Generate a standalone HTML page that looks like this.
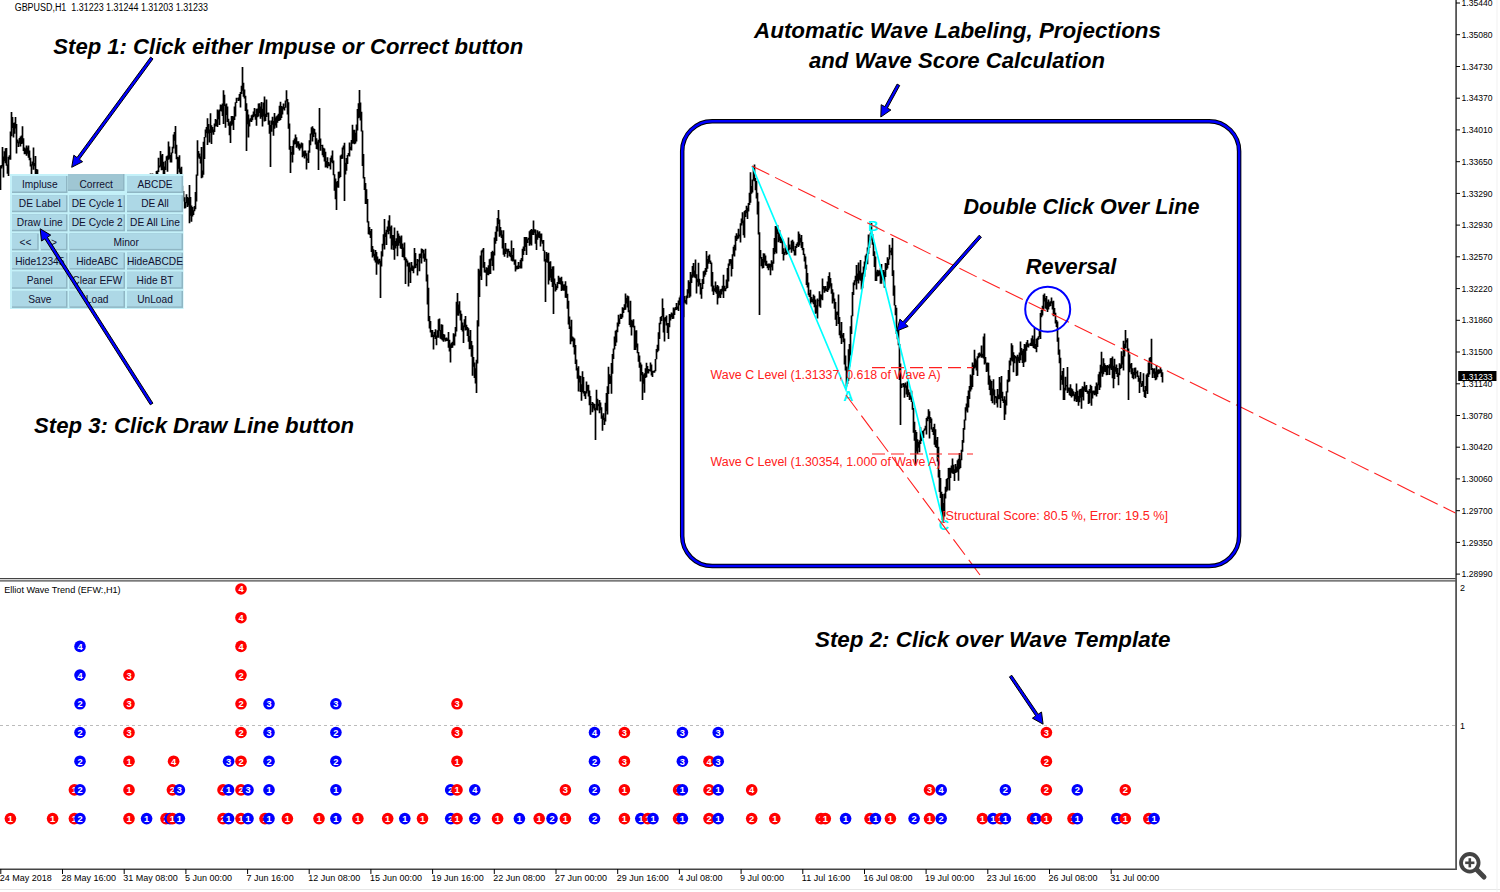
<!DOCTYPE html>
<html><head><meta charset="utf-8">
<style>
html,body{margin:0;padding:0;background:#fff;width:1500px;height:892px;overflow:hidden}
svg{position:absolute;left:0;top:0;display:block}
text{font-family:"Liberation Sans",sans-serif}
.ann{font-weight:bold;font-style:italic;font-size:22.8px;fill:#000}
.ax{font-size:9px;fill:#000}
.tx{font-size:9px;fill:#000}
.bt{font-size:10.2px;fill:#101030;text-anchor:middle}
.mkt{font-size:9.3px;font-weight:bold;fill:#fff;text-anchor:middle}
.red{font-size:12px;fill:#ff2020}
</style></head><body>
<svg width="1500" height="892" viewBox="0 0 1500 892">
<rect x="0" y="0" width="1500" height="892" fill="#fff"/>
<!-- price -->
<path d="M0.5 165.5V190.0M1.5 165.0V168.4M2.5 147.0V166.4M3.5 156.5V177.5M4.5 151.2V161.3M5.5 148.2V163.3M6.5 148.0V165.8M7.5 164.5V173.8M8.5 156.8V176.0M9.5 155.2V159.6M10.5 131.4V159.8M11.5 112.0V136.3M12.5 117.1V128.0M13.5 122.9V137.6M14.5 122.4V133.7M15.5 117.0V128.5M16.5 124.1V153.4M17.5 139.4V143.2M18.5 141.4V146.9M19.5 137.9V143.4M20.5 136.6V146.4M21.5 135.5V143.9M22.5 126.2V143.5M23.5 138.3V151.1M24.5 147.6V154.2M25.5 148.5V153.9M26.5 145.5V155.8M27.5 147.6V153.7M28.5 145.5V157.8M29.5 150.5V160.3M30.5 157.8V166.6M31.5 164.2V181.3M32.5 161.5V165.6M33.5 147.4V169.7M34.5 163.0V166.2M35.5 156.0V174.7M36.5 169.0V177.4M37.5 169.5V196.1M38.5 176.8V198.2M39.5 185.6V187.8M40.5 177.4V190.8M41.5 177.6V203.7M42.5 194.4V196.1M43.5 188.9V201.8M44.5 193.1V199.8M45.5 186.6V196.9M46.5 189.6V200.8M47.5 195.2V203.9M48.5 200.6V202.9M49.5 194.9V201.4M50.5 184.4V207.1M51.5 200.8V207.0M52.5 193.7V204.1M53.5 197.4V204.9M54.5 203.8V211.4M55.5 203.4V211.6M56.5 201.1V211.3M57.5 191.1V210.9M58.5 206.0V213.7M59.5 209.6V216.7M60.5 213.8V217.4M61.5 214.7V219.6M62.5 215.0V220.7M63.5 212.5V220.4M64.5 205.9V221.1M65.5 208.3V216.6M66.5 210.3V219.1M67.5 214.4V221.6M68.5 214.5V222.3M69.5 212.8V226.5M70.5 200.9V230.6M71.5 220.6V225.5M72.5 213.0V226.5M73.5 223.1V225.2M74.5 224.7V234.8M75.5 220.0V229.5M76.5 220.0V232.5M77.5 222.7V234.0M78.5 223.4V243.1M79.5 229.9V238.5M80.5 227.3V237.3M81.5 221.6V228.4M82.5 223.8V229.2M83.5 224.7V233.1M84.5 230.3V233.7M85.5 226.6V235.4M86.5 221.5V228.7M87.5 212.2V227.6M88.5 221.4V228.1M89.5 208.2V227.7M90.5 223.2V230.4M91.5 224.4V230.1M92.5 216.5V235.2M93.5 225.5V235.2M94.5 223.6V237.0M95.5 221.2V228.7M96.5 221.3V231.4M97.5 218.7V226.2M98.5 220.9V242.9M99.5 224.4V230.9M100.5 225.1V233.9M101.5 224.5V232.9M102.5 221.6V230.6M103.5 217.2V228.6M104.5 218.8V222.0M105.5 216.1V222.5M106.5 205.2V222.6M107.5 221.2V226.0M108.5 218.9V225.5M109.5 212.3V225.3M110.5 210.0V223.3M111.5 217.9V226.2M112.5 217.3V221.3M113.5 218.4V230.9M114.5 216.3V234.3M115.5 223.6V225.9M116.5 224.0V226.5M117.5 224.1V231.8M118.5 226.6V234.2M119.5 221.9V228.3M120.5 218.6V223.1M121.5 214.2V219.9M122.5 213.0V223.2M123.5 216.4V221.1M124.5 216.1V222.2M125.5 217.7V221.0M126.5 213.6V218.7M127.5 213.8V221.7M128.5 217.7V226.9M129.5 209.8V231.6M130.5 210.0V212.0M131.5 205.1V212.6M132.5 195.2V206.3M133.5 204.1V212.6M134.5 208.3V216.7M135.5 207.5V215.1M136.5 203.6V208.4M137.5 203.5V204.9M138.5 193.1V205.1M139.5 193.9V198.0M140.5 186.8V200.0M141.5 191.3V205.0M142.5 187.6V204.7M143.5 195.7V197.8M144.5 195.4V198.9M145.5 187.4V203.5M146.5 194.0V196.1M147.5 190.2V203.2M148.5 187.2V200.9M149.5 178.4V191.6M150.5 173.6V190.5M151.5 184.3V191.8M152.5 173.6V189.3M153.5 180.3V193.9M154.5 175.9V185.4M155.5 173.9V180.6M156.5 170.9V176.1M157.5 170.4V176.2M158.5 157.7V171.9M159.5 165.4V167.6M160.5 150.9V166.6M161.5 155.2V170.3M162.5 154.0V170.0M163.5 161.7V174.8M164.5 166.6V178.6M165.5 160.7V170.1M166.5 156.3V160.8M167.5 155.6V171.7M168.5 141.6V159.7M169.5 146.6V158.7M170.5 155.1V162.6M171.5 152.4V162.4M172.5 146.7V153.3M173.5 134.5V148.6M174.5 132.0V140.8M175.5 126.0V153.7M176.5 144.8V159.3M177.5 156.8V177.7M178.5 157.2V168.8M179.5 155.3V172.4M180.5 168.3V179.1M181.5 166.7V191.6M182.5 185.7V194.5M183.5 191.1V201.6M184.5 197.3V208.4M185.5 202.1V208.3M186.5 194.2V203.3M187.5 197.1V207.0M188.5 198.0V205.4M189.5 185.1V223.3M190.5 197.1V215.7M191.5 205.5V221.7M192.5 207.0V216.4M193.5 210.3V214.9M194.5 206.1V211.2M195.5 192.0V209.2M196.5 174.6V201.6M197.5 140.2V175.8M198.5 150.9V157.4M199.5 153.4V158.7M200.5 156.5V163.5M201.5 147.1V178.3M202.5 170.4V177.6M203.5 141.7V174.7M204.5 136.9V159.0M205.5 129.5V137.6M206.5 126.9V133.2M207.5 118.2V145.0M208.5 123.9V133.4M209.5 129.6V142.4M210.5 113.2V132.9M211.5 125.3V144.0M212.5 127.0V132.4M213.5 129.4V134.7M214.5 123.6V132.1M215.5 119.0V126.5M216.5 120.0V126.1M217.5 109.6V127.0M218.5 110.6V119.3M219.5 109.5V125.1M220.5 104.4V110.9M221.5 105.0V111.4M222.5 103.6V115.9M223.5 90.2V123.9M224.5 94.8V105.9M225.5 104.6V127.8M226.5 103.6V114.9M227.5 106.6V122.1M228.5 118.7V125.7M229.5 122.6V135.3M230.5 121.3V142.9M231.5 115.9V125.8M232.5 116.1V124.5M233.5 116.6V130.1M234.5 106.4V120.0M235.5 102.2V116.6M236.5 97.7V102.9M237.5 98.0V98.6M238.5 97.4V100.9M239.5 93.9V100.6M240.5 92.0V107.5M241.5 85.7V94.1M242.5 67.0V90.8M243.5 82.7V96.8M244.5 89.4V98.4M245.5 95.7V110.9M246.5 103.3V151.0M247.5 109.5V124.2M248.5 114.5V137.4M249.5 119.6V126.5M250.5 118.3V121.4M251.5 115.2V122.1M252.5 114.4V120.3M253.5 111.5V117.3M254.5 107.9V116.2M255.5 114.1V119.7M256.5 108.8V125.8M257.5 108.4V117.3M258.5 103.6V116.6M259.5 103.3V113.0M260.5 106.4V118.7M261.5 101.9V117.1M262.5 108.7V126.4M263.5 102.6V116.4M264.5 96.4V121.5M265.5 113.8V121.1M266.5 99.6V117.1M267.5 112.8V114.6M268.5 112.5V124.7M269.5 120.4V133.7M270.5 124.9V167.0M271.5 120.6V131.7M272.5 116.8V124.7M273.5 121.1V135.8M274.5 113.0V128.8M275.5 117.4V125.4M276.5 116.2V127.8M277.5 115.3V122.8M278.5 113.7V121.0M279.5 105.7V120.8M280.5 101.7V120.0M281.5 106.1V118.0M282.5 106.8V114.6M283.5 103.6V109.3M284.5 106.9V110.4M285.5 100.4V107.8M286.5 90.3V101.6M287.5 99.0V114.5M288.5 102.2V128.8M289.5 123.4V149.7M290.5 145.9V173.0M291.5 152.0V154.8M292.5 145.9V162.5M293.5 140.2V154.8M294.5 138.5V144.5M295.5 134.4V144.0M296.5 137.3V147.8M297.5 141.3V146.5M298.5 141.2V148.7M299.5 143.4V150.5M300.5 144.5V148.5M301.5 142.4V147.5M302.5 143.2V157.2M303.5 151.2V156.1M304.5 150.4V158.5M305.5 150.4V156.0M306.5 153.3V169.5M307.5 158.6V160.6M308.5 150.6V162.9M309.5 140.2V152.7M310.5 133.6V145.2M311.5 127.2V134.6M312.5 126.2V141.5M313.5 128.3V136.9M314.5 128.9V133.9M315.5 132.4V144.6M316.5 138.2V148.9M317.5 141.5V149.6M318.5 139.8V170.0M319.5 108.0V142.8M320.5 138.4V150.7M321.5 144.9V146.1M322.5 144.7V155.3M323.5 147.7V157.2M324.5 148.6V161.6M325.5 151.7V167.5M326.5 160.9V167.0M327.5 157.3V168.2M328.5 162.1V166.3M329.5 163.5V166.3M330.5 157.8V169.4M331.5 155.6V162.0M332.5 150.6V163.2M333.5 160.4V175.3M334.5 174.2V190.8M335.5 178.5V199.2M336.5 182.1V210.0M337.5 180.9V187.5M338.5 171.7V187.8M339.5 171.6V178.2M340.5 155.4V177.1M341.5 154.4V159.1M342.5 147.5V158.7M343.5 145.5V149.5M344.5 142.7V201.0M345.5 162.8V174.6M346.5 157.9V170.7M347.5 154.9V164.0M348.5 153.0V155.7M349.5 142.4V156.4M350.5 146.7V150.1M351.5 140.1V150.4M352.5 124.7V143.8M353.5 129.8V143.4M354.5 129.7V144.2M355.5 132.8V143.6M356.5 124.5V141.5M357.5 109.0V130.5M358.5 103.2V118.2M359.5 90.0V117.6M360.5 102.5V120.5M361.5 111.7V131.6M362.5 130.6V166.0M363.5 154.1V178.6M364.5 177.0V190.1M365.5 183.1V204.0M366.5 189.2V204.0M367.5 199.1V222.5M368.5 221.3V234.2M369.5 227.1V234.8M370.5 231.1V238.1M371.5 229.1V251.9M372.5 246.1V257.4M373.5 249.3V256.1M374.5 253.7V260.4M375.5 249.9V262.6M376.5 252.1V274.7M377.5 256.6V263.4M378.5 259.5V264.6M379.5 258.7V263.3M380.5 260.8V298.0M381.5 251.2V266.6M382.5 243.8V256.4M383.5 234.3V245.6M384.5 219.1V249.4M385.5 232.5V236.9M386.5 229.8V245.1M387.5 226.4V232.1M388.5 220.4V234.2M389.5 215.2V231.1M390.5 226.8V238.5M391.5 225.4V249.6M392.5 235.1V245.4M393.5 235.0V250.1M394.5 227.6V259.8M395.5 241.1V248.5M396.5 238.3V246.0M397.5 230.8V256.2M398.5 233.4V245.7M399.5 235.7V243.3M400.5 237.3V248.6M401.5 235.4V249.0M402.5 243.4V257.1M403.5 247.5V257.5M404.5 242.5V260.3M405.5 257.2V284.0M406.5 258.8V262.4M407.5 260.5V266.5M408.5 262.7V286.5M409.5 262.4V272.2M410.5 267.5V282.9M411.5 261.9V270.5M412.5 265.4V271.1M413.5 266.4V273.2M414.5 248.0V268.4M415.5 253.0V268.0M416.5 263.8V265.4M417.5 259.1V275.6M418.5 260.3V261.4M419.5 253.8V271.3M420.5 253.4V258.1M421.5 248.4V263.5M422.5 248.9V252.8M423.5 249.9V258.6M424.5 253.6V261.8M425.5 248.7V260.0M426.5 258.8V281.6M427.5 274.4V304.5M428.5 287.8V321.3M429.5 316.1V328.6M430.5 321.1V332.4M431.5 330.1V337.3M432.5 330.1V337.0M433.5 334.8V349.4M434.5 332.0V337.1M435.5 329.3V339.0M436.5 335.6V345.2M437.5 330.2V337.7M438.5 319.3V337.7M439.5 318.6V330.8M440.5 329.9V338.8M441.5 324.3V339.4M442.5 324.8V340.5M443.5 334.0V341.7M444.5 334.6V339.7M445.5 338.0V341.4M446.5 337.4V340.9M447.5 338.4V341.1M448.5 331.9V347.8M449.5 339.8V351.5M450.5 344.3V362.4M451.5 342.8V348.0M452.5 341.8V347.8M453.5 333.2V345.4M454.5 334.3V345.6M455.5 327.0V336.5M456.5 301.7V331.6M457.5 293.0V315.4M458.5 304.4V315.7M459.5 301.2V313.4M460.5 310.4V320.6M461.5 313.7V329.9M462.5 322.4V331.4M463.5 325.5V342.9M464.5 319.3V327.3M465.5 316.1V330.5M466.5 324.7V330.0M467.5 326.9V336.0M468.5 328.3V341.8M469.5 336.1V349.2M470.5 330.0V348.9M471.5 340.9V356.8M472.5 345.2V375.8M473.5 357.0V366.7M474.5 362.6V378.0M475.5 368.3V383.6M476.5 359.7V393.0M477.5 320.3V363.5M478.5 268.7V326.5M479.5 270.2V297.0M480.5 255.5V276.2M481.5 250.5V280.1M482.5 249.5V252.5M483.5 248.1V267.7M484.5 261.9V272.6M485.5 269.7V272.7M486.5 267.3V286.2M487.5 267.9V275.1M488.5 265.2V275.2M489.5 259.3V273.9M490.5 258.4V273.9M491.5 251.9V260.5M492.5 250.7V265.9M493.5 252.0V270.6M494.5 237.5V255.5M495.5 231.7V243.7M496.5 226.3V240.9M497.5 217.9V231.4M498.5 210.0V223.9M499.5 219.5V236.7M500.5 226.9V235.6M501.5 230.3V238.1M502.5 234.6V248.4M503.5 230.3V254.7M504.5 248.8V256.7M505.5 243.0V253.9M506.5 248.5V251.8M507.5 249.3V257.8M508.5 248.8V252.4M509.5 250.9V256.3M510.5 252.5V257.2M511.5 240.4V260.7M512.5 255.1V261.6M513.5 248.1V261.2M514.5 259.4V264.8M515.5 259.5V271.6M516.5 265.9V269.5M517.5 265.4V269.3M518.5 262.1V269.0M519.5 265.7V267.4M520.5 259.7V268.5M521.5 257.9V268.5M522.5 248.8V261.3M523.5 246.4V255.1M524.5 237.1V251.1M525.5 237.1V246.9M526.5 236.9V255.1M527.5 239.3V242.9M528.5 237.8V239.8M529.5 231.3V245.7M530.5 230.1V244.2M531.5 229.0V245.4M532.5 230.0V234.9M533.5 220.6V234.9M534.5 229.2V232.7M535.5 229.4V243.8M536.5 234.2V250.0M537.5 230.2V239.7M538.5 232.3V237.6M539.5 231.3V238.1M540.5 233.5V246.6M541.5 233.4V241.4M542.5 240.2V243.8M543.5 240.1V251.1M544.5 250.5V261.4M545.5 259.1V302.0M546.5 251.9V261.9M547.5 253.7V262.8M548.5 252.7V284.5M549.5 261.9V280.6M550.5 261.2V277.7M551.5 269.0V282.1M552.5 266.4V286.9M553.5 266.3V314.0M554.5 278.6V284.4M555.5 283.8V291.5M556.5 285.8V289.9M557.5 282.0V288.2M558.5 275.7V283.9M559.5 277.6V284.1M560.5 278.1V284.6M561.5 276.7V291.0M562.5 281.3V290.1M563.5 284.5V290.8M564.5 284.2V290.7M565.5 281.2V297.8M566.5 285.7V297.9M567.5 293.7V308.8M568.5 300.8V324.6M569.5 316.5V329.0M570.5 326.4V344.3M571.5 319.8V341.5M572.5 336.4V341.3M573.5 337.6V347.2M574.5 338.4V354.6M575.5 344.9V364.1M576.5 359.6V370.4M577.5 368.0V378.7M578.5 366.3V391.5M579.5 375.6V382.6M580.5 376.1V392.1M581.5 384.2V400.7M582.5 371.2V391.9M583.5 377.0V393.5M584.5 390.9V396.3M585.5 391.4V399.0M586.5 381.5V393.6M587.5 384.9V391.2M588.5 384.8V396.4M589.5 390.6V405.3M590.5 396.1V414.7M591.5 404.1V404.9M592.5 402.1V412.2M593.5 403.3V408.5M594.5 404.0V410.5M595.5 407.8V440.0M596.5 389.8V410.1M597.5 398.7V410.4M598.5 403.8V406.2M599.5 399.9V413.3M600.5 402.4V410.2M601.5 407.2V418.7M602.5 415.6V430.8M603.5 413.3V420.1M604.5 417.7V425.0M605.5 402.8V421.4M606.5 393.0V411.3M607.5 386.3V414.4M608.5 366.7V393.9M609.5 374.3V384.0M610.5 376.1V383.8M611.5 363.0V393.8M612.5 354.1V373.7M613.5 348.6V359.0M614.5 336.4V349.6M615.5 330.7V345.9M616.5 329.8V342.4M617.5 322.6V332.3M618.5 314.7V326.6M619.5 318.4V324.0M620.5 313.8V319.0M621.5 314.0V319.0M622.5 307.2V317.4M623.5 308.0V312.9M624.5 304.2V310.0M625.5 293.4V309.7M626.5 298.0V303.4M627.5 295.6V307.4M628.5 296.2V312.3M629.5 310.3V324.9M630.5 300.7V327.2M631.5 319.7V335.5M632.5 320.7V327.1M633.5 319.3V327.5M634.5 325.8V349.9M635.5 330.5V350.0M636.5 330.2V347.6M637.5 343.4V353.3M638.5 351.9V361.7M639.5 355.6V367.8M640.5 362.4V381.6M641.5 364.6V375.3M642.5 371.9V400.0M643.5 374.4V383.8M644.5 373.3V392.8M645.5 368.2V377.9M646.5 362.7V377.3M647.5 366.0V373.5M648.5 369.0V373.5M649.5 369.4V370.9M650.5 362.4V371.4M651.5 364.6V375.5M652.5 370.8V376.9M653.5 370.9V372.8M654.5 370.3V372.7M655.5 359.1V371.2M656.5 348.9V359.3M657.5 344.7V352.2M658.5 332.2V350.8M659.5 322.8V339.0M660.5 317.0V324.2M661.5 315.9V320.9M662.5 298.5V316.7M663.5 308.0V332.6M664.5 317.8V341.5M665.5 316.9V321.5M666.5 315.5V325.5M667.5 323.0V333.0M668.5 322.9V339.1M669.5 313.9V327.2M670.5 314.6V320.6M671.5 312.4V317.2M672.5 313.6V318.9M673.5 307.5V318.7M674.5 308.6V314.9M675.5 307.0V310.3M676.5 303.1V309.9M677.5 306.5V309.3M678.5 300.5V310.9M679.5 297.4V305.2M680.5 295.4V298.9M681.5 296.6V298.4M682.5 294.4V301.0M683.5 299.3V317.3M684.5 295.9V302.6M685.5 299.9V303.4M686.5 295.5V304.6M687.5 289.2V298.2M688.5 280.2V293.6M689.5 281.9V297.8M690.5 272.1V296.6M691.5 274.4V283.0M692.5 266.0V277.8M693.5 263.0V276.4M694.5 270.5V277.4M695.5 259.5V278.3M696.5 274.3V293.5M697.5 278.7V282.2M698.5 262.7V286.5M699.5 278.8V284.8M700.5 282.9V294.4M701.5 287.4V298.8M702.5 278.9V289.1M703.5 271.3V284.1M704.5 270.5V276.8M705.5 268.1V274.8M706.5 251.0V272.0M707.5 259.1V268.7M708.5 255.8V263.7M709.5 254.4V262.2M710.5 260.4V264.0M711.5 262.4V286.5M712.5 272.1V291.4M713.5 285.5V295.1M714.5 288.2V291.1M715.5 281.6V292.2M716.5 286.5V293.8M717.5 285.1V304.6M718.5 286.2V298.2M719.5 290.7V296.8M720.5 289.2V297.9M721.5 288.8V294.6M722.5 285.8V291.6M723.5 274.8V297.9M724.5 285.8V291.3M725.5 288.1V291.2M726.5 279.5V288.7M727.5 268.1V288.0M728.5 263.5V281.6M729.5 259.3V265.7M730.5 258.9V263.8M731.5 259.5V276.4M732.5 254.2V269.0M733.5 246.7V255.5M734.5 244.7V256.4M735.5 235.8V250.6M736.5 233.3V241.0M737.5 235.2V239.2M738.5 228.7V238.4M739.5 234.5V236.5M740.5 223.3V242.4M741.5 218.4V225.6M742.5 212.3V223.3M743.5 220.5V235.3M744.5 211.1V237.8M745.5 210.1V216.9M746.5 205.8V213.2M747.5 207.8V219.0M748.5 203.1V211.4M749.5 192.8V205.0M750.5 172.2V202.8M751.5 185.9V193.8M752.5 179.6V192.4M753.5 166.0V180.4M754.5 164.4V181.3M755.5 177.9V190.2M756.5 180.9V198.5M757.5 192.7V214.5M758.5 201.4V234.6M759.5 232.3V315.0M760.5 250.0V258.4M761.5 257.1V266.2M762.5 259.1V268.4M763.5 253.2V267.9M764.5 253.5V262.5M765.5 255.4V265.6M766.5 260.8V266.1M767.5 263.9V268.2M768.5 263.4V270.3M769.5 263.6V267.7M770.5 263.9V275.3M771.5 260.2V267.2M772.5 261.8V270.5M773.5 247.9V263.8M774.5 238.1V254.3M775.5 226.0V251.9M776.5 226.1V253.5M777.5 224.9V234.0M778.5 232.5V242.2M779.5 230.0V240.8M780.5 236.4V242.9M781.5 238.1V243.2M782.5 238.9V254.1M783.5 248.3V260.6M784.5 251.9V255.2M785.5 245.3V253.3M786.5 248.9V254.8M787.5 249.3V254.0M788.5 237.5V252.9M789.5 244.6V249.7M790.5 247.6V249.0M791.5 240.7V252.7M792.5 239.8V249.6M793.5 241.4V251.2M794.5 249.7V255.5M795.5 246.0V255.5M796.5 243.8V247.9M797.5 242.2V245.7M798.5 231.4V247.0M799.5 233.7V245.4M800.5 237.8V242.5M801.5 234.9V247.9M802.5 242.0V250.2M803.5 247.9V255.1M804.5 253.8V261.4M805.5 256.4V268.8M806.5 264.7V285.0M807.5 272.9V287.6M808.5 282.5V295.3M809.5 292.9V297.0M810.5 289.8V304.4M811.5 296.9V301.9M812.5 298.7V302.5M813.5 294.5V304.3M814.5 295.7V307.3M815.5 299.5V313.7M816.5 305.3V313.3M817.5 298.4V318.6M818.5 300.2V301.3M819.5 291.3V306.5M820.5 294.3V307.8M821.5 294.7V299.3M822.5 278.5V300.2M823.5 286.0V289.6M824.5 286.4V292.7M825.5 285.9V291.2M826.5 288.3V291.3M827.5 281.5V292.1M828.5 275.9V290.2M829.5 272.3V288.4M830.5 278.1V286.6M831.5 283.2V293.8M832.5 289.2V303.6M833.5 292.5V301.3M834.5 298.6V308.8M835.5 302.0V319.7M836.5 311.7V325.9M837.5 311.4V315.1M838.5 294.6V324.1M839.5 317.1V335.3M840.5 330.5V338.2M841.5 322.0V343.9M842.5 334.4V337.8M843.5 332.9V342.3M844.5 338.4V364.5M845.5 355.4V370.4M846.5 366.6V386.6M847.5 378.7V384.0M848.5 349.2V380.8M849.5 344.0V366.6M850.5 326.2V355.4M851.5 315.5V334.0M852.5 291.9V316.2M853.5 282.4V295.1M854.5 280.3V285.3M855.5 275.8V281.4M856.5 265.1V289.6M857.5 273.5V280.9M858.5 262.6V283.4M859.5 270.8V279.8M860.5 259.9V280.8M861.5 273.3V289.5M862.5 272.5V288.2M863.5 266.4V274.2M864.5 261.5V276.8M865.5 255.6V269.7M866.5 253.7V259.9M867.5 247.5V264.2M868.5 234.6V254.0M869.5 239.2V247.9M870.5 232.7V240.4M871.5 223.0V236.6M872.5 233.9V244.7M873.5 241.9V255.9M874.5 251.2V267.1M875.5 256.4V280.9M876.5 271.4V281.0M877.5 269.8V276.6M878.5 270.5V276.2M879.5 270.2V275.6M880.5 268.2V283.8M881.5 263.9V283.7M882.5 276.7V278.2M883.5 270.1V280.3M884.5 271.7V287.7M885.5 263.0V277.0M886.5 263.6V269.9M887.5 257.2V268.5M888.5 259.1V265.1M889.5 244.8V259.4M890.5 250.4V252.5M891.5 247.8V255.2M892.5 237.9V276.0M893.5 270.2V295.8M894.5 285.5V305.5M895.5 304.9V315.3M896.5 307.8V333.9M897.5 328.6V339.3M898.5 329.1V345.2M899.5 344.0V380.0M900.5 363.5V425.0M901.5 383.5V388.0M902.5 383.5V384.7M903.5 382.9V387.3M904.5 384.1V397.8M905.5 382.4V387.8M906.5 385.5V394.4M907.5 381.3V397.1M908.5 389.6V395.0M909.5 392.2V400.0M910.5 395.6V399.3M911.5 390.8V402.1M912.5 401.5V409.7M913.5 407.9V432.7M914.5 421.8V440.8M915.5 430.0V464.8M916.5 432.1V451.5M917.5 439.3V454.0M918.5 442.0V447.8M919.5 440.2V452.3M920.5 427.3V444.0M921.5 433.5V440.9M922.5 431.1V438.5M923.5 430.2V438.0M924.5 428.6V430.8M925.5 425.7V429.8M926.5 418.0V434.6M927.5 416.6V421.2M928.5 409.2V418.9M929.5 411.2V438.5M930.5 417.0V422.9M931.5 418.6V429.5M932.5 428.5V431.9M933.5 427.0V435.1M934.5 423.8V444.8M935.5 429.2V447.0M936.5 439.9V448.0M937.5 437.0V461.4M938.5 446.8V477.5M939.5 470.1V491.9M940.5 477.9V498.0M941.5 491.8V512.4M942.5 494.0V520.0M943.5 503.1V520.0M944.5 493.5V516.5M945.5 486.8V498.4M946.5 479.0V491.7M947.5 478.1V490.4M948.5 468.1V479.3M949.5 467.8V490.4M950.5 467.7V478.1M951.5 465.6V472.8M952.5 458.5V473.4M953.5 464.7V473.9M954.5 469.2V481.1M955.5 463.9V473.1M956.5 466.6V472.4M957.5 460.3V471.7M958.5 458.7V480.7M959.5 453.1V469.3M960.5 459.2V467.9M961.5 449.7V460.3M962.5 440.0V451.7M963.5 428.0V442.8M964.5 419.4V429.7M965.5 407.2V420.6M966.5 403.4V410.8M967.5 396.0V412.5M968.5 390.6V407.5M969.5 386.1V399.1M970.5 374.5V391.5M971.5 375.7V389.4M972.5 362.5V387.0M973.5 364.7V375.1M974.5 349.8V368.6M975.5 358.6V367.4M976.5 360.3V370.6M977.5 356.3V375.9M978.5 353.3V358.2M979.5 352.5V357.2M980.5 353.7V355.9M981.5 345.6V357.8M982.5 353.7V357.6M983.5 336.5V358.6M984.5 333.4V364.4M985.5 357.1V363.2M986.5 362.7V372.1M987.5 362.6V371.3M988.5 362.8V384.7M989.5 375.4V390.0M990.5 379.5V395.3M991.5 380.9V401.1M992.5 388.4V403.2M993.5 379.3V395.6M994.5 389.5V404.7M995.5 396.1V398.3M996.5 396.6V403.3M997.5 389.1V407.5M998.5 394.4V399.3M999.5 377.1V399.3M1000.5 382.5V408.0M1001.5 376.0V398.0M1002.5 391.8V400.9M1003.5 399.3V403.1M1004.5 396.2V420.0M1005.5 399.7V414.4M1006.5 391.3V405.5M1007.5 379.6V392.6M1008.5 370.0V382.3M1009.5 360.4V381.5M1010.5 357.8V365.5M1011.5 343.2V360.5M1012.5 345.2V361.4M1013.5 352.2V372.3M1014.5 355.1V363.2M1015.5 355.9V358.4M1016.5 356.9V376.1M1017.5 354.7V375.4M1018.5 356.8V361.6M1019.5 352.6V363.1M1020.5 341.5V360.2M1021.5 347.9V355.3M1022.5 350.6V363.1M1023.5 348.9V367.0M1024.5 344.1V362.5M1025.5 344.4V361.8M1026.5 342.3V350.8M1027.5 340.1V347.1M1028.5 343.4V347.5M1029.5 344.6V345.3M1030.5 342.7V346.1M1031.5 338.3V345.9M1032.5 335.5V346.2M1033.5 339.3V347.9M1034.5 327.7V348.6M1035.5 344.1V348.9M1036.5 338.7V352.3M1037.5 337.7V347.0M1038.5 336.3V339.7M1039.5 329.5V337.1M1040.5 313.1V339.0M1041.5 310.1V317.3M1042.5 305.8V315.6M1043.5 294.7V310.3M1044.5 293.6V301.4M1045.5 297.9V308.6M1046.5 296.0V309.5M1047.5 301.8V312.0M1048.5 299.6V309.4M1049.5 302.3V306.8M1050.5 301.3V306.0M1051.5 297.6V303.5M1052.5 301.6V309.4M1053.5 300.8V316.3M1054.5 308.1V316.1M1055.5 312.8V323.4M1056.5 320.1V327.0M1057.5 321.6V341.7M1058.5 337.4V354.7M1059.5 349.6V363.3M1060.5 357.7V390.2M1061.5 375.2V380.0M1062.5 371.0V384.8M1063.5 368.0V400.0M1064.5 387.8V400.1M1065.5 376.7V390.4M1066.5 384.9V386.6M1067.5 367.1V392.9M1068.5 387.5V391.6M1069.5 387.6V395.2M1070.5 384.3V396.1M1071.5 388.2V397.5M1072.5 389.2V396.2M1073.5 391.2V395.7M1074.5 394.2V401.3M1075.5 392.1V399.3M1076.5 383.6V401.9M1077.5 390.8V401.4M1078.5 396.0V405.7M1079.5 389.6V402.2M1080.5 389.0V397.8M1081.5 388.6V408.7M1082.5 386.3V396.9M1083.5 387.1V400.5M1084.5 381.7V390.8M1085.5 386.3V391.9M1086.5 385.1V391.9M1087.5 390.4V393.7M1088.5 391.0V403.9M1089.5 389.1V403.3M1090.5 384.8V393.2M1091.5 386.0V405.8M1092.5 390.8V398.4M1093.5 390.5V393.7M1094.5 390.6V395.3M1095.5 386.2V394.8M1096.5 382.5V396.6M1097.5 384.2V393.9M1098.5 374.3V385.3M1099.5 371.7V390.0M1100.5 364.7V387.6M1101.5 351.7V373.4M1102.5 366.3V376.7M1103.5 358.2V374.2M1104.5 363.3V371.7M1105.5 365.0V372.1M1106.5 366.0V375.2M1107.5 365.0V375.0M1108.5 365.9V368.2M1109.5 364.2V375.1M1110.5 358.3V368.4M1111.5 358.0V369.9M1112.5 356.5V378.2M1113.5 365.7V388.2M1114.5 358.8V379.0M1115.5 366.7V371.7M1116.5 364.5V374.1M1117.5 368.0V376.9M1118.5 372.7V385.2M1119.5 363.3V375.2M1120.5 364.6V369.1M1121.5 351.2V368.0M1122.5 356.0V364.5M1123.5 340.8V370.5M1124.5 343.7V356.4M1125.5 329.9V347.9M1126.5 340.0V342.4M1127.5 338.3V351.3M1128.5 348.5V400.0M1129.5 354.4V372.3M1130.5 363.9V368.5M1131.5 363.1V374.3M1132.5 368.2V378.1M1133.5 372.0V379.3M1134.5 367.7V375.2M1135.5 367.4V378.4M1136.5 371.9V373.5M1137.5 370.4V376.9M1138.5 375.4V381.7M1139.5 378.1V393.0M1140.5 372.1V383.4M1141.5 383.2V387.1M1142.5 381.1V386.0M1143.5 373.3V391.7M1144.5 389.9V397.0M1145.5 386.1V398.1M1146.5 374.4V391.1M1147.5 373.2V394.0M1148.5 362.4V376.9M1149.5 357.8V374.5M1150.5 356.9V363.0M1151.5 338.7V369.9M1152.5 367.9V377.9M1153.5 369.0V373.8M1154.5 368.2V378.1M1155.5 371.6V380.3M1156.5 364.9V379.4M1157.5 370.1V377.2M1158.5 369.2V374.2M1159.5 369.8V373.4M1160.5 367.5V373.1M1161.5 369.5V376.9M1162.5 372.3V382.5" stroke="#000" stroke-width="1.7" fill="none"/>
<!-- trend lines -->
<polyline points="752,166 846,390 871.5,231 943.5,523" fill="none" stroke="#00ffff" stroke-width="1.7"/>
<text x="867.7" y="230.5" style="font-size:15px;font-weight:bold;fill:#00ffff" textLength="10.5" lengthAdjust="spacingAndGlyphs">B</text>
<text x="843.1" y="400.5" style="font-size:15px;font-weight:bold;fill:#00ffff" textLength="10.1" lengthAdjust="spacingAndGlyphs">A</text>
<text x="938.5" y="530" style="font-size:15px;font-weight:bold;fill:#00ffff" textLength="10.4" lengthAdjust="spacingAndGlyphs">C</text>
<line x1="752" y1="166" x2="1456" y2="513.3" stroke="#ff2020" stroke-width="1.1" stroke-dasharray="19.3 6.4"/>
<line x1="846" y1="395" x2="980" y2="575" stroke="#ff2020" stroke-width="1.1" stroke-dasharray="19.3 6.4"/>
<line x1="872" y1="367.6" x2="973" y2="367.6" stroke="#ff2020" stroke-width="1.1" stroke-dasharray="13 6"/>
<line x1="872" y1="454" x2="973" y2="454" stroke="#ff2020" stroke-width="1.1" stroke-dasharray="13 6"/>
<text x="710.6" y="379.2" class="red" textLength="230" lengthAdjust="spacingAndGlyphs">Wave C Level (1.31337, 0.618 of Wave A)</text>
<text x="710.6" y="465.8" class="red" textLength="230" lengthAdjust="spacingAndGlyphs">Wave C Level (1.30354, 1.000 of Wave A)</text>
<text x="942" y="520.3" class="red" textLength="226" lengthAdjust="spacingAndGlyphs">[Structural Score: 80.5 %, Error: 19.5 %]</text>
<circle cx="1047.7" cy="309.2" r="22.5" fill="none" stroke="#0000ff" stroke-width="2"/>
<!-- rounded box -->
<rect x="682.2" y="121.2" width="556.9" height="444.9" rx="30" ry="30" fill="none" stroke="#000" stroke-width="4.5"/>
<rect x="682.2" y="121.2" width="556.9" height="444.9" rx="30" ry="30" fill="none" stroke="#0000ff" stroke-width="2.5"/>
<!-- annotations -->
<text x="53.3" y="54.3" class="ann" textLength="470" lengthAdjust="spacingAndGlyphs">Step 1: Click either Impuse or Correct button</text>
<text x="754" y="37.9" class="ann" textLength="407" lengthAdjust="spacingAndGlyphs">Automatic Wave Labeling, Projections</text>
<text x="809" y="67.8" class="ann" textLength="296" lengthAdjust="spacingAndGlyphs">and Wave Score Calculation</text>
<text x="963.5" y="213.6" class="ann" textLength="236" lengthAdjust="spacingAndGlyphs">Double Click Over Line</text>
<text x="1025.8" y="274.3" class="ann" textLength="90.5" lengthAdjust="spacingAndGlyphs">Reversal</text>
<text x="34" y="432.7" class="ann" textLength="320" lengthAdjust="spacingAndGlyphs">Step 3: Click Draw Line button</text>
<text x="815" y="646.7" class="ann" textLength="355.5" lengthAdjust="spacingAndGlyphs">Step 2: Click over Wave Template</text>
<!-- symbol header -->
<text x="14.7" y="11" style="font-size:10px;fill:#000;white-space:pre" xml:space="preserve" textLength="193.3" lengthAdjust="spacingAndGlyphs">GBPUSD,H1  1.31223 1.31244 1.31203 1.31233</text>
<!-- panel -->
<rect x="10" y="174" width="173.5" height="135" fill="#c4f1f9"/>
<rect x="12" y="176.0" width="55.5" height="17" fill="#8fb6c4"/><rect x="12" y="176.0" width="54.0" height="15.5" fill="#add8e6"/><text x="39.8" y="188.1" class="bt">Impluse</text>
<rect x="68.0" y="174.0" width="56.5" height="17" fill="#8fb6c4"/><rect x="68.0" y="174.0" width="55.0" height="15.5" fill="#9fc6d3"/><text x="96.2" y="188.1" class="bt">Correct</text>
<rect x="127" y="176.0" width="56" height="17" fill="#8fb6c4"/><rect x="127" y="176.0" width="54.5" height="15.5" fill="#add8e6"/><text x="155.0" y="188.1" class="bt">ABCDE</text>
<rect x="12" y="195.2" width="55.5" height="17" fill="#8fb6c4"/><rect x="12" y="195.2" width="54.0" height="15.5" fill="#add8e6"/><text x="39.8" y="207.3" class="bt">DE Label</text>
<rect x="69.5" y="195.2" width="55.5" height="17" fill="#8fb6c4"/><rect x="69.5" y="195.2" width="54.0" height="15.5" fill="#add8e6"/><text x="97.2" y="207.3" class="bt">DE Cycle 1</text>
<rect x="127" y="195.2" width="56" height="17" fill="#8fb6c4"/><rect x="127" y="195.2" width="54.5" height="15.5" fill="#add8e6"/><text x="155.0" y="207.3" class="bt">DE All</text>
<rect x="12" y="214.3" width="55.5" height="17" fill="#8fb6c4"/><rect x="12" y="214.3" width="54.0" height="15.5" fill="#add8e6"/><text x="39.8" y="226.4" class="bt">Draw Line</text>
<rect x="69.5" y="214.3" width="55.5" height="17" fill="#8fb6c4"/><rect x="69.5" y="214.3" width="54.0" height="15.5" fill="#add8e6"/><text x="97.2" y="226.4" class="bt">DE Cycle 2</text>
<rect x="127" y="214.3" width="56" height="17" fill="#8fb6c4"/><rect x="127" y="214.3" width="54.5" height="15.5" fill="#add8e6"/><text x="155.0" y="226.4" class="bt">DE All Line</text>
<rect x="12" y="233.4" width="26.75" height="17" fill="#8fb6c4"/><rect x="12" y="233.4" width="25.25" height="15.5" fill="#add8e6"/><text x="25.4" y="245.5" class="bt"><<</text>
<rect x="40.75" y="233.4" width="26.75" height="17" fill="#8fb6c4"/><rect x="40.75" y="233.4" width="25.25" height="15.5" fill="#add8e6"/><text x="54.1" y="245.5" class="bt">></text>
<rect x="69.5" y="233.4" width="113.5" height="17" fill="#8fb6c4"/><rect x="69.5" y="233.4" width="112.0" height="15.5" fill="#add8e6"/><text x="126.2" y="245.5" class="bt">Minor</text>
<rect x="12" y="252.6" width="55.5" height="17" fill="#8fb6c4"/><rect x="12" y="252.6" width="54.0" height="15.5" fill="#add8e6"/><text x="39.8" y="264.7" class="bt">Hide12345</text>
<rect x="69.5" y="252.6" width="55.5" height="17" fill="#8fb6c4"/><rect x="69.5" y="252.6" width="54.0" height="15.5" fill="#add8e6"/><text x="97.2" y="264.7" class="bt">HideABC</text>
<rect x="127" y="252.6" width="56" height="17" fill="#8fb6c4"/><rect x="127" y="252.6" width="54.5" height="15.5" fill="#add8e6"/><text x="155.0" y="264.7" class="bt">HideABCDE</text>
<rect x="12" y="271.8" width="55.5" height="17" fill="#8fb6c4"/><rect x="12" y="271.8" width="54.0" height="15.5" fill="#add8e6"/><text x="39.8" y="283.9" class="bt">Panel</text>
<rect x="69.5" y="271.8" width="55.5" height="17" fill="#8fb6c4"/><rect x="69.5" y="271.8" width="54.0" height="15.5" fill="#add8e6"/><text x="97.2" y="283.9" class="bt">Clear EFW</text>
<rect x="127" y="271.8" width="56" height="17" fill="#8fb6c4"/><rect x="127" y="271.8" width="54.5" height="15.5" fill="#add8e6"/><text x="155.0" y="283.9" class="bt">Hide BT</text>
<rect x="12" y="290.9" width="55.5" height="17" fill="#8fb6c4"/><rect x="12" y="290.9" width="54.0" height="15.5" fill="#add8e6"/><text x="39.8" y="303.0" class="bt">Save</text>
<rect x="69.5" y="290.9" width="55.5" height="17" fill="#8fb6c4"/><rect x="69.5" y="290.9" width="54.0" height="15.5" fill="#add8e6"/><text x="97.2" y="303.0" class="bt">Load</text>
<rect x="127" y="290.9" width="56" height="17" fill="#8fb6c4"/><rect x="127" y="290.9" width="54.5" height="15.5" fill="#add8e6"/><text x="155.0" y="303.0" class="bt">UnLoad</text>
<polygon points="150.6,57.1 77.0,157.5 73.8,155.2 71.7,167.3 82.6,161.7 79.4,159.3 153.0,58.9" fill="#0000ff" stroke="#000" stroke-width="1" stroke-linejoin="miter"/>
<polygon points="152.9,403.2 47.4,237.3 50.7,235.1 40.2,228.8 41.5,241.0 44.8,238.9 150.3,404.8" fill="#0000ff" stroke="#000" stroke-width="1" stroke-linejoin="miter"/>
<polygon points="897.1,84.1 884.8,106.6 881.2,104.7 880.8,117.0 890.9,110.0 887.4,108.1 899.7,85.5" fill="#0000ff" stroke="#000" stroke-width="1" stroke-linejoin="miter"/>
<polygon points="979.2,235.2 902.9,321.8 899.9,319.1 896.8,331.0 908.2,326.4 905.2,323.7 981.4,237.2" fill="#0000ff" stroke="#000" stroke-width="1" stroke-linejoin="miter"/>
<polygon points="1009.4,676.9 1035.7,715.9 1032.4,718.2 1043.1,724.2 1041.5,712.0 1038.2,714.2 1011.8,675.3" fill="#0000ff" stroke="#000" stroke-width="1" stroke-linejoin="miter"/>
<!-- separators & axes -->
<rect x="0" y="578" width="1457" height="1.2" fill="#444"/>
<rect x="0" y="580.3" width="1457" height="1.2" fill="#444"/>
<rect x="0" y="868.5" width="1457" height="1.5" fill="#444"/>
<rect x="1455.2" y="0" width="1.8" height="870" fill="#555"/>
<line x1="1456" y1="3.0" x2="1460" y2="3.0" stroke="#000" stroke-width="1"/>
<text x="1461.5" y="6.1" class="ax" textLength="31" lengthAdjust="spacingAndGlyphs">1.35440</text>
<line x1="1456" y1="34.7" x2="1460" y2="34.7" stroke="#000" stroke-width="1"/>
<text x="1461.5" y="37.8" class="ax" textLength="31" lengthAdjust="spacingAndGlyphs">1.35080</text>
<line x1="1456" y1="66.5" x2="1460" y2="66.5" stroke="#000" stroke-width="1"/>
<text x="1461.5" y="69.6" class="ax" textLength="31" lengthAdjust="spacingAndGlyphs">1.34730</text>
<line x1="1456" y1="98.2" x2="1460" y2="98.2" stroke="#000" stroke-width="1"/>
<text x="1461.5" y="101.3" class="ax" textLength="31" lengthAdjust="spacingAndGlyphs">1.34370</text>
<line x1="1456" y1="129.9" x2="1460" y2="129.9" stroke="#000" stroke-width="1"/>
<text x="1461.5" y="133.0" class="ax" textLength="31" lengthAdjust="spacingAndGlyphs">1.34010</text>
<line x1="1456" y1="161.7" x2="1460" y2="161.7" stroke="#000" stroke-width="1"/>
<text x="1461.5" y="164.8" class="ax" textLength="31" lengthAdjust="spacingAndGlyphs">1.33650</text>
<line x1="1456" y1="193.4" x2="1460" y2="193.4" stroke="#000" stroke-width="1"/>
<text x="1461.5" y="196.5" class="ax" textLength="31" lengthAdjust="spacingAndGlyphs">1.33290</text>
<line x1="1456" y1="225.1" x2="1460" y2="225.1" stroke="#000" stroke-width="1"/>
<text x="1461.5" y="228.2" class="ax" textLength="31" lengthAdjust="spacingAndGlyphs">1.32930</text>
<line x1="1456" y1="256.8" x2="1460" y2="256.8" stroke="#000" stroke-width="1"/>
<text x="1461.5" y="259.9" class="ax" textLength="31" lengthAdjust="spacingAndGlyphs">1.32570</text>
<line x1="1456" y1="288.6" x2="1460" y2="288.6" stroke="#000" stroke-width="1"/>
<text x="1461.5" y="291.7" class="ax" textLength="31" lengthAdjust="spacingAndGlyphs">1.32220</text>
<line x1="1456" y1="320.3" x2="1460" y2="320.3" stroke="#000" stroke-width="1"/>
<text x="1461.5" y="323.4" class="ax" textLength="31" lengthAdjust="spacingAndGlyphs">1.31860</text>
<line x1="1456" y1="352.0" x2="1460" y2="352.0" stroke="#000" stroke-width="1"/>
<text x="1461.5" y="355.1" class="ax" textLength="31" lengthAdjust="spacingAndGlyphs">1.31500</text>
<line x1="1456" y1="383.8" x2="1460" y2="383.8" stroke="#000" stroke-width="1"/>
<text x="1461.5" y="386.9" class="ax" textLength="31" lengthAdjust="spacingAndGlyphs">1.31140</text>
<line x1="1456" y1="415.5" x2="1460" y2="415.5" stroke="#000" stroke-width="1"/>
<text x="1461.5" y="418.6" class="ax" textLength="31" lengthAdjust="spacingAndGlyphs">1.30780</text>
<line x1="1456" y1="447.2" x2="1460" y2="447.2" stroke="#000" stroke-width="1"/>
<text x="1461.5" y="450.3" class="ax" textLength="31" lengthAdjust="spacingAndGlyphs">1.30420</text>
<line x1="1456" y1="478.9" x2="1460" y2="478.9" stroke="#000" stroke-width="1"/>
<text x="1461.5" y="482.1" class="ax" textLength="31" lengthAdjust="spacingAndGlyphs">1.30060</text>
<line x1="1456" y1="510.7" x2="1460" y2="510.7" stroke="#000" stroke-width="1"/>
<text x="1461.5" y="513.8" class="ax" textLength="31" lengthAdjust="spacingAndGlyphs">1.29700</text>
<line x1="1456" y1="542.4" x2="1460" y2="542.4" stroke="#000" stroke-width="1"/>
<text x="1461.5" y="545.5" class="ax" textLength="31" lengthAdjust="spacingAndGlyphs">1.29350</text>
<line x1="1456" y1="574.1" x2="1460" y2="574.1" stroke="#000" stroke-width="1"/>
<text x="1461.5" y="577.2" class="ax" textLength="31" lengthAdjust="spacingAndGlyphs">1.28990</text>
<rect x="1458.2" y="371" width="38.7" height="10" fill="#000"/>
<text x="1461.5" y="379.5" style="font-size:9px;fill:#fff" textLength="31" lengthAdjust="spacingAndGlyphs">1.31233</text>
<line x1="0" y1="725.5" x2="1456" y2="725.5" stroke="#bbb" stroke-width="1" stroke-dasharray="3 3"/>
<text x="1460" y="591" style="font-size:9px;fill:#000">2</text>
<text x="1460" y="729" style="font-size:9px;fill:#000">1</text>
<text x="4.2" y="592.5" style="font-size:9.5px;fill:#000" textLength="116.4" lengthAdjust="spacingAndGlyphs">Elliot Wave Trend (EFW:,H1)</text>
<g transform="translate(10.4,818.6)"><circle r="5.8" fill="#ff0000"/><text y="3.4" class="mkt">1</text></g>
<g transform="translate(52.6,818.6)"><circle r="5.8" fill="#ff0000"/><text y="3.4" class="mkt">1</text></g>
<g transform="translate(74.4,818.6)"><circle r="5.8" fill="#ff0000"/><text y="3.4" class="mkt">1</text></g>
<g transform="translate(74.4,789.9)"><circle r="5.8" fill="#ff0000"/><text y="3.4" class="mkt">1</text></g>
<g transform="translate(80.0,818.6)"><circle r="5.8" fill="#0000ff"/><text y="3.4" class="mkt">2</text></g>
<g transform="translate(80.0,789.9)"><circle r="5.8" fill="#0000ff"/><text y="3.4" class="mkt">2</text></g>
<g transform="translate(80.0,761.2)"><circle r="5.8" fill="#0000ff"/><text y="3.4" class="mkt">2</text></g>
<g transform="translate(80.0,732.5)"><circle r="5.8" fill="#0000ff"/><text y="3.4" class="mkt">2</text></g>
<g transform="translate(80.0,703.8)"><circle r="5.8" fill="#0000ff"/><text y="3.4" class="mkt">2</text></g>
<g transform="translate(80.0,675.1)"><circle r="5.8" fill="#0000ff"/><text y="3.4" class="mkt">4</text></g>
<g transform="translate(80.0,646.4)"><circle r="5.8" fill="#0000ff"/><text y="3.4" class="mkt">4</text></g>
<g transform="translate(129.0,818.6)"><circle r="5.8" fill="#ff0000"/><text y="3.4" class="mkt">1</text></g>
<g transform="translate(129.0,789.9)"><circle r="5.8" fill="#ff0000"/><text y="3.4" class="mkt">1</text></g>
<g transform="translate(129.0,761.2)"><circle r="5.8" fill="#ff0000"/><text y="3.4" class="mkt">1</text></g>
<g transform="translate(129.0,732.5)"><circle r="5.8" fill="#ff0000"/><text y="3.4" class="mkt">3</text></g>
<g transform="translate(129.0,703.8)"><circle r="5.8" fill="#ff0000"/><text y="3.4" class="mkt">3</text></g>
<g transform="translate(129.0,675.1)"><circle r="5.8" fill="#ff0000"/><text y="3.4" class="mkt">3</text></g>
<g transform="translate(146.6,818.6)"><circle r="5.8" fill="#0000ff"/><text y="3.4" class="mkt">1</text></g>
<g transform="translate(166.0,818.6)"><circle r="5.8" fill="#ff0000"/><text y="3.4" class="mkt">2</text></g>
<g transform="translate(170.0,818.6)"><circle r="5.8" fill="#0000ff"/><text y="3.4" class="mkt">1</text></g>
<g transform="translate(172.4,818.6)"><circle r="5.8" fill="#ff0000"/><text y="3.4" class="mkt">1</text></g>
<g transform="translate(172.4,789.9)"><circle r="5.8" fill="#ff0000"/><text y="3.4" class="mkt">2</text></g>
<g transform="translate(179.4,818.6)"><circle r="5.8" fill="#0000ff"/><text y="3.4" class="mkt">1</text></g>
<g transform="translate(179.4,789.9)"><circle r="5.8" fill="#0000ff"/><text y="3.4" class="mkt">3</text></g>
<g transform="translate(173.6,761.2)"><circle r="5.8" fill="#ff0000"/><text y="3.4" class="mkt">4</text></g>
<g transform="translate(223.0,818.6)"><circle r="5.8" fill="#ff0000"/><text y="3.4" class="mkt">2</text></g>
<g transform="translate(223.0,789.9)"><circle r="5.8" fill="#ff0000"/><text y="3.4" class="mkt">4</text></g>
<g transform="translate(228.6,818.6)"><circle r="5.8" fill="#0000ff"/><text y="3.4" class="mkt">1</text></g>
<g transform="translate(228.6,789.9)"><circle r="5.8" fill="#0000ff"/><text y="3.4" class="mkt">1</text></g>
<g transform="translate(228.6,761.2)"><circle r="5.8" fill="#0000ff"/><text y="3.4" class="mkt">3</text></g>
<g transform="translate(241.0,818.6)"><circle r="5.8" fill="#ff0000"/><text y="3.4" class="mkt">1</text></g>
<g transform="translate(241.0,789.9)"><circle r="5.8" fill="#ff0000"/><text y="3.4" class="mkt">2</text></g>
<g transform="translate(241.0,761.2)"><circle r="5.8" fill="#ff0000"/><text y="3.4" class="mkt">2</text></g>
<g transform="translate(241.0,732.5)"><circle r="5.8" fill="#ff0000"/><text y="3.4" class="mkt">2</text></g>
<g transform="translate(241.0,703.8)"><circle r="5.8" fill="#ff0000"/><text y="3.4" class="mkt">2</text></g>
<g transform="translate(241.0,675.1)"><circle r="5.8" fill="#ff0000"/><text y="3.4" class="mkt">2</text></g>
<g transform="translate(241.0,646.4)"><circle r="5.8" fill="#ff0000"/><text y="3.4" class="mkt">4</text></g>
<g transform="translate(241.0,617.7)"><circle r="5.8" fill="#ff0000"/><text y="3.4" class="mkt">4</text></g>
<g transform="translate(241.0,589.0)"><circle r="5.8" fill="#ff0000"/><text y="3.4" class="mkt">4</text></g>
<g transform="translate(248.0,818.6)"><circle r="5.8" fill="#0000ff"/><text y="3.4" class="mkt">1</text></g>
<g transform="translate(248.0,789.9)"><circle r="5.8" fill="#0000ff"/><text y="3.4" class="mkt">3</text></g>
<g transform="translate(265.0,818.6)"><circle r="5.8" fill="#ff0000"/><text y="3.4" class="mkt">1</text></g>
<g transform="translate(269.0,818.6)"><circle r="5.8" fill="#0000ff"/><text y="3.4" class="mkt">1</text></g>
<g transform="translate(269.0,789.9)"><circle r="5.8" fill="#0000ff"/><text y="3.4" class="mkt">1</text></g>
<g transform="translate(269.0,761.2)"><circle r="5.8" fill="#0000ff"/><text y="3.4" class="mkt">2</text></g>
<g transform="translate(269.0,732.5)"><circle r="5.8" fill="#0000ff"/><text y="3.4" class="mkt">3</text></g>
<g transform="translate(269.0,703.8)"><circle r="5.8" fill="#0000ff"/><text y="3.4" class="mkt">3</text></g>
<g transform="translate(287.4,818.6)"><circle r="5.8" fill="#ff0000"/><text y="3.4" class="mkt">1</text></g>
<g transform="translate(319.0,818.6)"><circle r="5.8" fill="#ff0000"/><text y="3.4" class="mkt">1</text></g>
<g transform="translate(335.9,818.6)"><circle r="5.8" fill="#0000ff"/><text y="3.4" class="mkt">1</text></g>
<g transform="translate(335.9,789.9)"><circle r="5.8" fill="#0000ff"/><text y="3.4" class="mkt">1</text></g>
<g transform="translate(335.9,761.2)"><circle r="5.8" fill="#0000ff"/><text y="3.4" class="mkt">2</text></g>
<g transform="translate(335.9,732.5)"><circle r="5.8" fill="#0000ff"/><text y="3.4" class="mkt">2</text></g>
<g transform="translate(335.9,703.8)"><circle r="5.8" fill="#0000ff"/><text y="3.4" class="mkt">3</text></g>
<g transform="translate(357.9,818.6)"><circle r="5.8" fill="#ff0000"/><text y="3.4" class="mkt">1</text></g>
<g transform="translate(387.7,818.6)"><circle r="5.8" fill="#ff0000"/><text y="3.4" class="mkt">1</text></g>
<g transform="translate(404.8,818.6)"><circle r="5.8" fill="#0000ff"/><text y="3.4" class="mkt">1</text></g>
<g transform="translate(422.5,818.6)"><circle r="5.8" fill="#ff0000"/><text y="3.4" class="mkt">1</text></g>
<g transform="translate(450.7,818.6)"><circle r="5.8" fill="#0000ff"/><text y="3.4" class="mkt">2</text></g>
<g transform="translate(450.7,789.9)"><circle r="5.8" fill="#0000ff"/><text y="3.4" class="mkt">2</text></g>
<g transform="translate(457.0,818.6)"><circle r="5.8" fill="#ff0000"/><text y="3.4" class="mkt">1</text></g>
<g transform="translate(457.0,789.9)"><circle r="5.8" fill="#ff0000"/><text y="3.4" class="mkt">1</text></g>
<g transform="translate(457.0,761.2)"><circle r="5.8" fill="#ff0000"/><text y="3.4" class="mkt">1</text></g>
<g transform="translate(457.0,732.5)"><circle r="5.8" fill="#ff0000"/><text y="3.4" class="mkt">3</text></g>
<g transform="translate(457.0,703.8)"><circle r="5.8" fill="#ff0000"/><text y="3.4" class="mkt">3</text></g>
<g transform="translate(474.8,818.6)"><circle r="5.8" fill="#0000ff"/><text y="3.4" class="mkt">2</text></g>
<g transform="translate(474.8,789.9)"><circle r="5.8" fill="#0000ff"/><text y="3.4" class="mkt">4</text></g>
<g transform="translate(497.6,818.6)"><circle r="5.8" fill="#ff0000"/><text y="3.4" class="mkt">1</text></g>
<g transform="translate(519.4,818.6)"><circle r="5.8" fill="#0000ff"/><text y="3.4" class="mkt">1</text></g>
<g transform="translate(539.2,818.6)"><circle r="5.8" fill="#ff0000"/><text y="3.4" class="mkt">1</text></g>
<g transform="translate(552.0,818.6)"><circle r="5.8" fill="#0000ff"/><text y="3.4" class="mkt">2</text></g>
<g transform="translate(565.4,818.6)"><circle r="5.8" fill="#ff0000"/><text y="3.4" class="mkt">1</text></g>
<g transform="translate(565.4,789.9)"><circle r="5.8" fill="#ff0000"/><text y="3.4" class="mkt">3</text></g>
<g transform="translate(594.5,818.6)"><circle r="5.8" fill="#0000ff"/><text y="3.4" class="mkt">2</text></g>
<g transform="translate(594.5,789.9)"><circle r="5.8" fill="#0000ff"/><text y="3.4" class="mkt">2</text></g>
<g transform="translate(594.5,761.2)"><circle r="5.8" fill="#0000ff"/><text y="3.4" class="mkt">2</text></g>
<g transform="translate(594.5,732.5)"><circle r="5.8" fill="#0000ff"/><text y="3.4" class="mkt">4</text></g>
<g transform="translate(624.4,818.6)"><circle r="5.8" fill="#ff0000"/><text y="3.4" class="mkt">1</text></g>
<g transform="translate(624.4,789.9)"><circle r="5.8" fill="#ff0000"/><text y="3.4" class="mkt">1</text></g>
<g transform="translate(624.4,761.2)"><circle r="5.8" fill="#ff0000"/><text y="3.4" class="mkt">3</text></g>
<g transform="translate(624.4,732.5)"><circle r="5.8" fill="#ff0000"/><text y="3.4" class="mkt">3</text></g>
<g transform="translate(640.8,818.6)"><circle r="5.8" fill="#0000ff"/><text y="3.4" class="mkt">1</text></g>
<g transform="translate(647.8,818.6)"><circle r="5.8" fill="#ff0000"/><text y="3.4" class="mkt">1</text></g>
<g transform="translate(653.0,818.6)"><circle r="5.8" fill="#0000ff"/><text y="3.4" class="mkt">1</text></g>
<g transform="translate(678.6,818.6)"><circle r="5.8" fill="#ff0000"/><text y="3.4" class="mkt">1</text></g>
<g transform="translate(678.6,789.9)"><circle r="5.8" fill="#ff0000"/><text y="3.4" class="mkt">1</text></g>
<g transform="translate(682.4,818.6)"><circle r="5.8" fill="#0000ff"/><text y="3.4" class="mkt">1</text></g>
<g transform="translate(682.4,789.9)"><circle r="5.8" fill="#0000ff"/><text y="3.4" class="mkt">1</text></g>
<g transform="translate(682.4,761.2)"><circle r="5.8" fill="#0000ff"/><text y="3.4" class="mkt">3</text></g>
<g transform="translate(682.4,732.5)"><circle r="5.8" fill="#0000ff"/><text y="3.4" class="mkt">3</text></g>
<g transform="translate(709.0,818.6)"><circle r="5.8" fill="#ff0000"/><text y="3.4" class="mkt">2</text></g>
<g transform="translate(709.0,789.9)"><circle r="5.8" fill="#ff0000"/><text y="3.4" class="mkt">2</text></g>
<g transform="translate(709.0,761.2)"><circle r="5.8" fill="#ff0000"/><text y="3.4" class="mkt">4</text></g>
<g transform="translate(718.2,818.6)"><circle r="5.8" fill="#0000ff"/><text y="3.4" class="mkt">1</text></g>
<g transform="translate(718.2,789.9)"><circle r="5.8" fill="#0000ff"/><text y="3.4" class="mkt">1</text></g>
<g transform="translate(718.2,761.2)"><circle r="5.8" fill="#0000ff"/><text y="3.4" class="mkt">3</text></g>
<g transform="translate(718.2,732.5)"><circle r="5.8" fill="#0000ff"/><text y="3.4" class="mkt">3</text></g>
<g transform="translate(751.7,818.6)"><circle r="5.8" fill="#ff0000"/><text y="3.4" class="mkt">2</text></g>
<g transform="translate(751.7,789.9)"><circle r="5.8" fill="#ff0000"/><text y="3.4" class="mkt">4</text></g>
<g transform="translate(774.8,818.6)"><circle r="5.8" fill="#ff0000"/><text y="3.4" class="mkt">1</text></g>
<g transform="translate(821.0,818.6)"><circle r="5.8" fill="#ff0000"/><text y="3.4" class="mkt">1</text></g>
<g transform="translate(825.3,818.6)"><circle r="5.8" fill="#ff0000"/><text y="3.4" class="mkt">1</text></g>
<g transform="translate(845.6,818.6)"><circle r="5.8" fill="#0000ff"/><text y="3.4" class="mkt">1</text></g>
<g transform="translate(870.0,818.6)"><circle r="5.8" fill="#ff0000"/><text y="3.4" class="mkt">1</text></g>
<g transform="translate(875.5,818.6)"><circle r="5.8" fill="#0000ff"/><text y="3.4" class="mkt">1</text></g>
<g transform="translate(890.4,818.6)"><circle r="5.8" fill="#ff0000"/><text y="3.4" class="mkt">1</text></g>
<g transform="translate(914.1,818.6)"><circle r="5.8" fill="#0000ff"/><text y="3.4" class="mkt">2</text></g>
<g transform="translate(929.5,818.6)"><circle r="5.8" fill="#ff0000"/><text y="3.4" class="mkt">1</text></g>
<g transform="translate(929.5,789.9)"><circle r="5.8" fill="#ff0000"/><text y="3.4" class="mkt">3</text></g>
<g transform="translate(941.2,818.6)"><circle r="5.8" fill="#0000ff"/><text y="3.4" class="mkt">2</text></g>
<g transform="translate(941.2,789.9)"><circle r="5.8" fill="#0000ff"/><text y="3.4" class="mkt">4</text></g>
<g transform="translate(982.4,818.6)"><circle r="5.8" fill="#ff0000"/><text y="3.4" class="mkt">1</text></g>
<g transform="translate(993.0,818.6)"><circle r="5.8" fill="#0000ff"/><text y="3.4" class="mkt">1</text></g>
<g transform="translate(1000.5,818.6)"><circle r="5.8" fill="#ff0000"/><text y="3.4" class="mkt">1</text></g>
<g transform="translate(1005.4,818.6)"><circle r="5.8" fill="#0000ff"/><text y="3.4" class="mkt">1</text></g>
<g transform="translate(1005.4,789.9)"><circle r="5.8" fill="#0000ff"/><text y="3.4" class="mkt">2</text></g>
<g transform="translate(1032.5,818.6)"><circle r="5.8" fill="#ff0000"/><text y="3.4" class="mkt">1</text></g>
<g transform="translate(1035.7,818.6)"><circle r="5.8" fill="#0000ff"/><text y="3.4" class="mkt">1</text></g>
<g transform="translate(1046.4,818.6)"><circle r="5.8" fill="#ff0000"/><text y="3.4" class="mkt">1</text></g>
<g transform="translate(1046.4,789.9)"><circle r="5.8" fill="#ff0000"/><text y="3.4" class="mkt">2</text></g>
<g transform="translate(1046.4,761.2)"><circle r="5.8" fill="#ff0000"/><text y="3.4" class="mkt">2</text></g>
<g transform="translate(1046.4,732.5)"><circle r="5.8" fill="#ff0000"/><text y="3.4" class="mkt">3</text></g>
<g transform="translate(1073.0,818.6)"><circle r="5.8" fill="#ff0000"/><text y="3.4" class="mkt">1</text></g>
<g transform="translate(1077.3,818.6)"><circle r="5.8" fill="#0000ff"/><text y="3.4" class="mkt">1</text></g>
<g transform="translate(1077.3,789.9)"><circle r="5.8" fill="#0000ff"/><text y="3.4" class="mkt">2</text></g>
<g transform="translate(1116.8,818.6)"><circle r="5.8" fill="#0000ff"/><text y="3.4" class="mkt">1</text></g>
<g transform="translate(1125.3,818.6)"><circle r="5.8" fill="#ff0000"/><text y="3.4" class="mkt">1</text></g>
<g transform="translate(1125.3,789.9)"><circle r="5.8" fill="#ff0000"/><text y="3.4" class="mkt">2</text></g>
<g transform="translate(1148.8,818.6)"><circle r="5.8" fill="#ff0000"/><text y="3.4" class="mkt">1</text></g>
<g transform="translate(1154.1,818.6)"><circle r="5.8" fill="#0000ff"/><text y="3.4" class="mkt">1</text></g>
<line x1="0.8" y1="869" x2="0.8" y2="874" stroke="#000" stroke-width="1"/>
<text x="-0.2" y="881" class="tx">24 May 2018</text>
<line x1="62.5" y1="869" x2="62.5" y2="874" stroke="#000" stroke-width="1"/>
<text x="61.5" y="881" class="tx">28 May 16:00</text>
<line x1="124.2" y1="869" x2="124.2" y2="874" stroke="#000" stroke-width="1"/>
<text x="123.2" y="881" class="tx">31 May 08:00</text>
<line x1="185.9" y1="869" x2="185.9" y2="874" stroke="#000" stroke-width="1"/>
<text x="184.9" y="881" class="tx">5 Jun 00:00</text>
<line x1="247.6" y1="869" x2="247.6" y2="874" stroke="#000" stroke-width="1"/>
<text x="246.6" y="881" class="tx">7 Jun 16:00</text>
<line x1="309.2" y1="869" x2="309.2" y2="874" stroke="#000" stroke-width="1"/>
<text x="308.2" y="881" class="tx">12 Jun 08:00</text>
<line x1="370.9" y1="869" x2="370.9" y2="874" stroke="#000" stroke-width="1"/>
<text x="369.9" y="881" class="tx">15 Jun 00:00</text>
<line x1="432.6" y1="869" x2="432.6" y2="874" stroke="#000" stroke-width="1"/>
<text x="431.6" y="881" class="tx">19 Jun 16:00</text>
<line x1="494.3" y1="869" x2="494.3" y2="874" stroke="#000" stroke-width="1"/>
<text x="493.3" y="881" class="tx">22 Jun 08:00</text>
<line x1="556.0" y1="869" x2="556.0" y2="874" stroke="#000" stroke-width="1"/>
<text x="555.0" y="881" class="tx">27 Jun 00:00</text>
<line x1="617.7" y1="869" x2="617.7" y2="874" stroke="#000" stroke-width="1"/>
<text x="616.7" y="881" class="tx">29 Jun 16:00</text>
<line x1="679.4" y1="869" x2="679.4" y2="874" stroke="#000" stroke-width="1"/>
<text x="678.4" y="881" class="tx">4 Jul 08:00</text>
<line x1="741.1" y1="869" x2="741.1" y2="874" stroke="#000" stroke-width="1"/>
<text x="740.1" y="881" class="tx">9 Jul 00:00</text>
<line x1="802.8" y1="869" x2="802.8" y2="874" stroke="#000" stroke-width="1"/>
<text x="801.8" y="881" class="tx">11 Jul 16:00</text>
<line x1="864.5" y1="869" x2="864.5" y2="874" stroke="#000" stroke-width="1"/>
<text x="863.5" y="881" class="tx">16 Jul 08:00</text>
<line x1="926.1" y1="869" x2="926.1" y2="874" stroke="#000" stroke-width="1"/>
<text x="925.1" y="881" class="tx">19 Jul 00:00</text>
<line x1="987.8" y1="869" x2="987.8" y2="874" stroke="#000" stroke-width="1"/>
<text x="986.8" y="881" class="tx">23 Jul 16:00</text>
<line x1="1049.5" y1="869" x2="1049.5" y2="874" stroke="#000" stroke-width="1"/>
<text x="1048.5" y="881" class="tx">26 Jul 08:00</text>
<line x1="1111.2" y1="869" x2="1111.2" y2="874" stroke="#000" stroke-width="1"/>
<text x="1110.2" y="881" class="tx">31 Jul 00:00</text>
<rect x="0" y="889" width="1500" height="1" fill="#e6e6e6"/>
<!-- magnifier -->
<g stroke="#444" fill="none">
<circle cx="1469.8" cy="862.8" r="8.8" stroke-width="3.8"/>
<line x1="1476.6" y1="869.6" x2="1484" y2="877" stroke-width="5" stroke-linecap="round"/>
<line x1="1465.2" y1="862.8" x2="1474.4" y2="862.8" stroke-width="2.6"/>
<line x1="1469.8" y1="858.2" x2="1469.8" y2="867.4" stroke-width="2.6"/>
</g>
<rect x="1496.5" y="0" width="1" height="892" fill="#f2f2f2"/>
</svg>
</body></html>
